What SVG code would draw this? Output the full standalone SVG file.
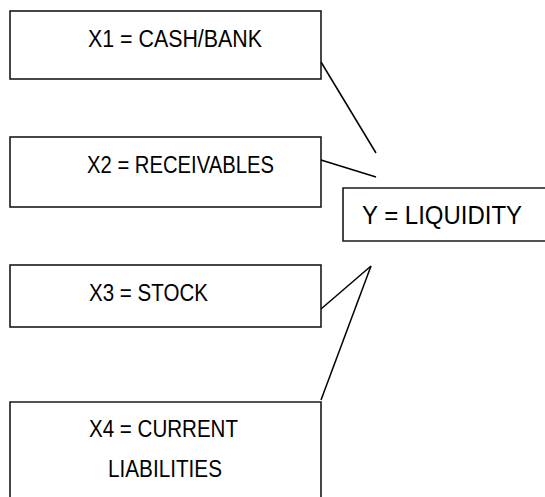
<svg xmlns="http://www.w3.org/2000/svg" width="545" height="497" viewBox="0 0 545 497">
<style>
.box{fill:#fff;stroke:#1a1a1a;stroke-width:1.6}
.t{font-family:"Liberation Sans",Arial,sans-serif;font-size:23px;fill:#000}
.ty{font-family:"Liberation Sans",Arial,sans-serif;font-size:26px;fill:#000}
.c{stroke:#000;stroke-width:1.5;fill:none}
</style>
<rect width="545" height="497" fill="#fff"/>
<g id="x1"><rect class="box" x="10" y="11" width="311" height="68"/><text class="t" x="88" y="47" textLength="174" lengthAdjust="spacingAndGlyphs">X1 = CASH/BANK</text></g>
<g id="x2"><rect class="box" x="10" y="137" width="311" height="70"/><text class="t" x="87" y="173" textLength="187" lengthAdjust="spacingAndGlyphs">X2 = RECEIVABLES</text></g>
<g id="y"><path class="box" d="M545 188 H343 V241 H545"/><text class="ty" x="362" y="224" textLength="160" lengthAdjust="spacingAndGlyphs">Y = LIQUIDITY</text></g>
<g id="x3"><rect class="box" x="10" y="265" width="311" height="62"/><text class="t" x="89" y="301" textLength="119" lengthAdjust="spacingAndGlyphs">X3 = STOCK</text></g>
<g id="x4"><path class="box" d="M10 497 V402 H321 V497"/><text class="t" x="89" y="437" textLength="149" lengthAdjust="spacingAndGlyphs">X4 = CURRENT</text><text class="t" x="108" y="477" textLength="114" lengthAdjust="spacingAndGlyphs">LIABILITIES</text></g>
<g id="connectors">
<line class="c" x1="321" y1="62" x2="376" y2="153"/>
<line class="c" x1="321" y1="160" x2="376" y2="177"/>
<line class="c" x1="321" y1="309" x2="371" y2="266"/>
<line class="c" x1="371" y1="266" x2="321" y2="400"/>
</g>
</svg>
